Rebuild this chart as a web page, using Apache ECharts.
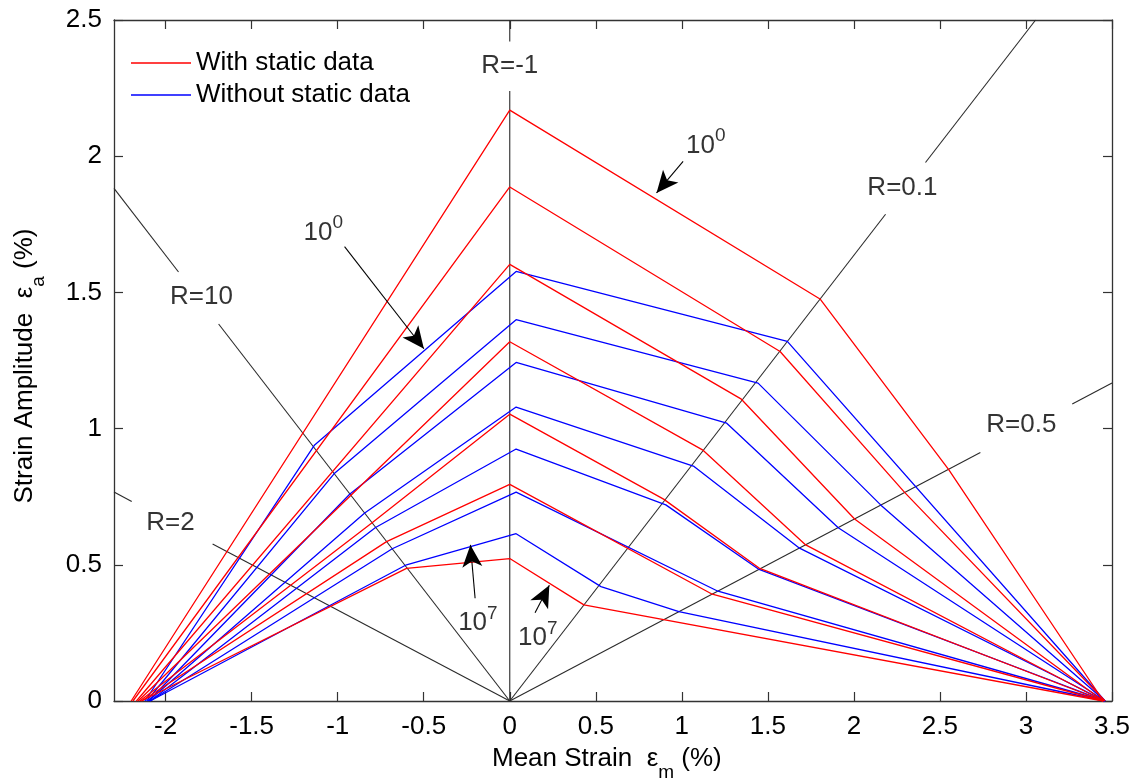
<!DOCTYPE html>
<html><head><meta charset="utf-8">
<script src="https://cdn.jsdelivr.net/npm/echarts@6/dist/echarts.min.js"></script>
<style>html,body{margin:0;padding:0;background:#fff}#c{width:1144px;height:783px}</style>
</head><body><div id="c"></div>
<script>
// ---------- data ----------
const xTicks = [-2, -1.5, -1, -0.5, 0, 0.5, 1, 1.5, 2, 2.5, 3, 3.5];
const yTicks = [0, 0.5, 1, 1.5, 2, 2.5];

// "With static data" curves (mean strain, strain amplitude), 10^0 ... 10^7
const withStatic = [
  [[-2.20, 0], [0, 2.169], [1.803, 1.476], [2.551, 0.849], [3.45, 0]],
  [[-2.19, 0], [0, 1.887], [1.571, 1.283], [2.296, 0.765], [3.46, 0]],
  [[-2.17, 0], [0, 1.603], [1.346, 1.108], [2.004, 0.668], [3.45, 0]],
  [[-2.16, 0], [0, 1.319], [1.120, 0.922], [1.720, 0.573], [3.45, 0]],
  [[-2.15, 0], [-0.80, 0.654], [0, 1.053], [0.894, 0.741], [1.449, 0.488], [3.45, 0]],
  [[-2.14, 0], [-0.716, 0.585], [0, 0.795], [1.177, 0.392], [3.45, 0]],
  [[-2.14, 0], [-0.60, 0.487], [0, 0.523], [0.431, 0.353], [3.45, 0]]
];
// "Without static data" curves
const withoutStatic = [
  [[-2.12, 0], [-1.134, 0.94], [0.037, 1.577], [1.613, 1.320], [3.46, 0]],
  [[-2.11, 0], [-1.02, 0.835], [0.037, 1.400], [1.443, 1.167], [2.157, 0.719], [3.46, 0]],
  [[-2.10, 0], [-0.929, 0.760], [0.037, 1.243], [1.261, 1.020], [1.909, 0.636], [3.46, 0]],
  [[-2.10, 0], [-0.843, 0.690], [0.037, 1.079], [1.071, 0.861], [1.684, 0.561], [3.46, 0]],
  [[-2.09, 0], [-0.78, 0.637], [0.037, 0.925], [0.907, 0.720], [1.449, 0.483], [3.46, 0]],
  [[-2.09, 0], [-0.683, 0.559], [0.037, 0.767], [1.21, 0.403], [3.46, 0]],
  [[-2.09, 0], [-0.60, 0.500], [0.037, 0.614], [0.53, 0.420], [0.983, 0.328], [3.46, 0]]
];

// constant-R lines (segments, broken where the label sits)
const rLineNames = ['R=-1', 'R=10', 'R=2', 'R=0.1', 'R=0.5'];
const rLineSegments = [
  [[[0, 2.5], [0, 2.421]], [[0, 2.239], [0, 0]]],
  [[[-2.3, 1.882], [-1.925, 1.575]], [[-1.692, 1.384], [0, 0]]],
  [[[-2.3, 0.767], [-2.197, 0.732]], [[-1.727, 0.576], [0, 0]]],
  [[[0, 0], [2.184, 1.787]], [[2.416, 1.977], [3.056, 2.5]]],
  [[[0, 0], [2.735, 0.912]], [[3.269, 1.090], [3.5, 1.167]]]
];
const rLabelAt = [[0, 2.333], [-1.792, 1.484], [-1.972, 0.654], [2.282, 1.885], [2.973, 1.014]];

// cycle annotations
const cycleLabels = ['10^0', '10^0', '10^7', '10^7'];
const cycleLabelAt = [[-1.198, 1.730], [1.024, 2.050], [-0.300, 0.298], [0.048, 0.242]];
const cycleArrows = [
  [[-0.96, 1.668], [-0.499, 1.293]],
  [[1.0075, 1.981], [0.853, 1.865]],
  [[-0.2014, 0.377], [-0.2287, 0.573]],
  [[0.147, 0.324], [0.23, 0.425]]
];

// ---------- chart ----------
const FONT = 'Liberation Sans, Arial, Helvetica, sans-serif';
const RED = '#ff0000', BLUE = '#0000ff', BLACK = '#2a2a2a';
const chart = echarts.init(document.getElementById('c'), null, {renderer: 'canvas'});

const series = [];
withStatic.forEach(d => series.push({
  type: 'line', name: 'With static data', data: d, symbol: 'none', silent: true,
  lineStyle: {color: RED, width: 1.3}, itemStyle: {color: RED}, z: 4
}));
withoutStatic.forEach(d => series.push({
  type: 'line', name: 'Without static data', data: d, symbol: 'none', silent: true,
  lineStyle: {color: BLUE, width: 1.3}, itemStyle: {color: BLUE}, z: 3
}));
rLineSegments.forEach((segs, i) => segs.forEach(s => series.push({
  type: 'line', name: rLineNames[i], data: s, symbol: 'none', silent: true,
  lineStyle: {color: BLACK, width: 1.1}, z: 2
})));
// R labels
series.push({
  type: 'scatter', name: 'rlabels', symbolSize: 0, silent: true, z: 5,
  data: rLabelAt.map((p, i) => ({value: p, name: rLineNames[i]})),
  label: {show: true, position: 'inside', formatter: p => p.name, color: '#000', fontSize: 26, fontFamily: FONT}
});
// cycle labels + arrows
series.push({
  type: 'scatter', name: 'cycles', symbolSize: 0, silent: true, z: 5,
  data: cycleLabelAt.map((p, i) => ({value: p, name: cycleLabels[i]})),
  label: {
    show: true, position: 'right', distance: 0, color: '#000', fontFamily: FONT,
    formatter: p => { const [b, s] = p.name.split('^'); return '{b|' + b + '}{s|' + s + '}'; },
    rich: {
      b: {fontSize: 26, fontFamily: FONT, color: '#000', verticalAlign: 'bottom', lineHeight: 32},
      s: {fontSize: 19, fontFamily: FONT, color: '#000', verticalAlign: 'top', lineHeight: 32}
    }
  },
  markLine: {
    silent: true, symbol: ['none', 'arrow'], symbolSize: [15, 22],
    lineStyle: {color: '#000', width: 1.1, type: 'solid'},
    label: {show: false},
    data: cycleArrows.map(a => [{coord: a[0]}, {coord: a[1]}])
  }
});

const axisCommon = {
  type: 'value', splitLine: {show: false},
  axisLine: {show: true, onZero: false, lineStyle: {color: '#333', width: 1.3}},
  axisTick: {show: true, inside: true, length: 9, lineStyle: {color: '#333', width: 1.2}}
};

chart.setOption({
  animation: false,
  backgroundColor: '#fff',
  grid: {left: 114, right: 32, top: 20, bottom: 82, containLabel: false},
  legend: {
    data: [
      {name: 'With static data', icon: 'rect', itemStyle: {color: RED}},
      {name: 'Without static data', icon: 'rect', itemStyle: {color: BLUE}}
    ],
    orient: 'vertical', left: 126, top: 45, itemWidth: 60, itemHeight: 1.6, itemGap: 6,
    textStyle: {fontSize: 26, fontFamily: FONT, color: '#000'},
    selectedMode: false
  },
  xAxis: [
    Object.assign({}, axisCommon, {
      min: -2.3, max: 3.5, position: 'bottom',
      axisTick: Object.assign({}, axisCommon.axisTick, {customValues: xTicks}),
      axisLabel: {customValues: xTicks, fontSize: 26, fontFamily: FONT, color: '#000', margin: 13, formatter: v => String(v)}
    }),
    Object.assign({}, axisCommon, {
      min: -2.3, max: 3.5, position: 'top',
      axisTick: Object.assign({}, axisCommon.axisTick, {customValues: xTicks}),
      axisLabel: {show: false}
    })
  ],
  yAxis: [
    Object.assign({}, axisCommon, {
      min: 0, max: 2.5, interval: 0.5, position: 'left',
      axisLabel: {fontSize: 26, fontFamily: FONT, color: '#000', margin: 12, formatter: v => String(v)}
    }),
    Object.assign({}, axisCommon, {
      min: 0, max: 2.5, interval: 0.5, position: 'right',
      axisLabel: {show: false}
    })
  ],
  graphic: [
    {
      type: 'text', left: 492, top: 746, silent: true,
      style: {
        text: '{t|Mean Strain  ε}{s|m}{t| (%)}', fill: '#000',
        rich: {
          t: {fontSize: 26, fontFamily: FONT, fill: '#000', verticalAlign: 'top', lineHeight: 36},
          s: {fontSize: 19, fontFamily: FONT, fill: '#000', verticalAlign: 'bottom', lineHeight: 36}
        }
      }
    },
    {
      type: 'text', x: 12, y: 366, rotation: Math.PI / 2, silent: true,
      style: {
        text: '{t|Strain Amplitude  ε}{s|a}{t| (%)}', fill: '#000', align: 'center', verticalAlign: 'top',
        rich: {
          t: {fontSize: 26, fontFamily: FONT, fill: '#000', verticalAlign: 'top', lineHeight: 36},
          s: {fontSize: 19, fontFamily: FONT, fill: '#000', verticalAlign: 'bottom', lineHeight: 36}
        }
      }
    }
  ],
  series: series
});
</script>
</body></html>
